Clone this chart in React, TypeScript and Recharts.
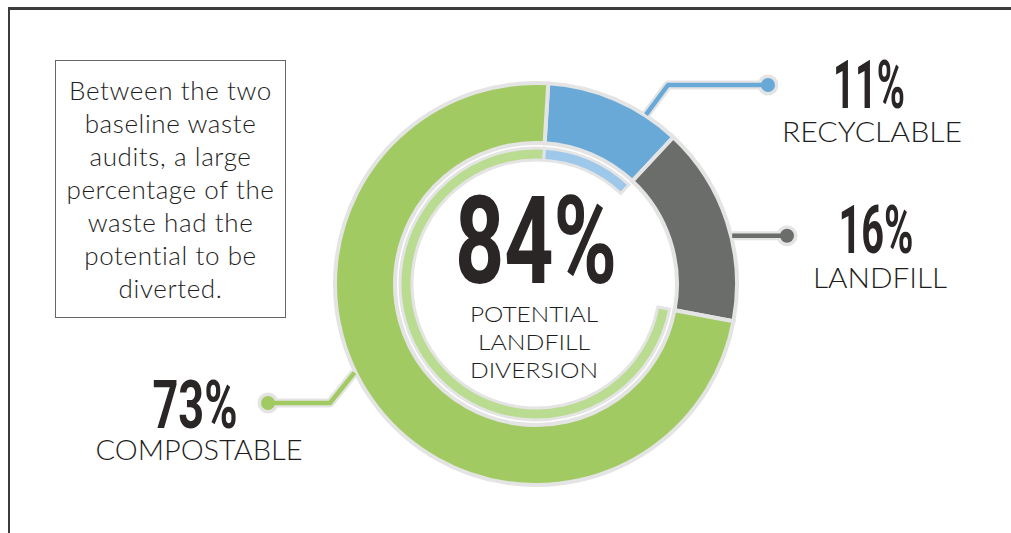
import React from 'react';
import { PieChart, Pie, Cell } from 'recharts';

// waste audit shares, clockwise from the top
const categories = ['RECYCLABLE', 'LANDFILL', 'COMPOSTABLE'];
const shares = [11, 16, 73];
const divertible = [true, false, true];
const centerLines = ['POTENTIAL', 'LANDFILL', 'DIVERSION'];
const noteLines = [
  'Between the two',
  'baseline waste',
  'audits, a large',
  'percentage of the',
  'waste had the',
  'potential to be',
  'diverted.',
];

const ringColors = ['#68a9d7', '#6a6d69', '#a2ca62'];
const innerColors = ['#9dc8ea', 'none', '#b9dc90'];
const outlineGray = '#e4e4e4';
const inkColor = '#2a2626';

const outerData = categories.map((name, i) => ({ name, value: shares[i] }));
const innerData = categories.map((name, i) => ({ name, value: shares[i] }));
const diversion = shares.reduce((sum, v, i) => (divertible[i] ? sum + v : sum), 0);

const START = 86.5;
const RAD = Math.PI / 180;

// callout geometry, relative to the pie centre
const callouts = [
  { shift: -9.7, elbow: [132, -199], end: [232, -199], pct: [333, -176, 72], word: [336, -142, 180] },
  { shift: -4.3, elbow: null, end: [251, null], pct: [340, -31, 75], word: [344, 4, 134] },
  { shift: -11.9, elbow: [-206, 119], end: [-268, 119], pct: [-341, 144, 85], word: [-337, 176, 207] },
];

const renderCallout = (props: any) => {
  const { cx, cy, midAngle, outerRadius, index } = props;
  const c = callouts[index];
  const color = ringColors[index];
  const a = (midAngle + c.shift) * RAD;
  const r = outerRadius + 1;
  const ax = cx + r * Math.cos(a);
  const ay = cy - r * Math.sin(a);
  const pts: number[][] = [[ax, ay]];
  if (c.elbow) pts.push([cx + c.elbow[0], cy + c.elbow[1]]);
  const ex = cx + c.end[0];
  const ey = c.end[1] === null ? ay : cy + (c.end[1] as number);
  pts.push([ex, ey]);
  const path = pts.map((p) => p.join(',')).join(' ');
  return (
    <g key={`callout-${index}`}>
      <polyline points={path} fill="none" stroke={outlineGray} strokeWidth={9} strokeLinejoin="round" />
      <circle cx={ex} cy={ey} r={10.5} fill={outlineGray} />
      <polyline points={path} fill="none" stroke={color} strokeWidth={4.5} strokeLinejoin="round" />
      <circle cx={ex} cy={ey} r={7} fill={color} />
      <text
        x={cx + c.pct[0]}
        y={cy + c.pct[1]}
        textAnchor="middle"
        fontFamily="Roboto, sans-serif"
        fontWeight={700}
        fontSize={66}
        textLength={c.pct[2]}
        lengthAdjust="spacingAndGlyphs"
        fill={inkColor}
      >
        {shares[index]}%
      </text>
      <text
        x={cx + c.word[0]}
        y={cy + c.word[1]}
        textAnchor="middle"
        fontFamily="Lato, sans-serif"
        fontWeight={300}
        fontSize={28}
        textLength={c.word[2]}
        lengthAdjust="spacingAndGlyphs"
        fill="#1e1e1e"
      >
        {categories[index]}
      </text>
    </g>
  );
};

// centre text is hung on the first inner slice's label
const renderCenter = (props: any) => {
  const { cx, cy, index } = props;
  if (index !== 0) return <g key={`c-${index}`} />;
  const widths = [128, 112, 128];
  return (
    <g key="center">
      <text
        x={cx}
        y={cy - 1}
        textAnchor="middle"
        fontFamily="Roboto, sans-serif"
        fontWeight={700}
        fontSize={123}
        textLength={162}
        lengthAdjust="spacingAndGlyphs"
        fill={inkColor}
      >
        {diversion}%
      </text>
      {centerLines.map((line, i) => (
        <text
          key={line}
          x={cx - 2}
          y={cy + 38 + i * 28}
          textAnchor="middle"
          fontFamily="Lato, sans-serif"
          fontWeight={300}
          fontSize={22}
          textLength={widths[i]}
          lengthAdjust="spacingAndGlyphs"
          fill="#1e1e1e"
        >
          {line}
        </text>
      ))}
    </g>
  );
};

export default function App() {
  return (
    <div style={{ position: 'absolute', left: 0, top: 0, width: 1011, height: 533, background: '#fff', overflow: 'hidden' }}>
      <div
        style={{
          position: 'absolute', left: 8, top: 7, width: 1010, height: 540,
          borderTop: '3px solid #3c3c3c', borderLeft: '2px solid #3c3c3c',
        }}
      />
      <div
        style={{
          position: 'absolute', left: 55, top: 60, width: 231, height: 258,
          border: '1px solid #666', boxSizing: 'border-box',
          fontFamily: 'Lato, sans-serif', fontWeight: 300, fontSize: 26, lineHeight: '33px',
          letterSpacing: 0.6, color: '#1e1e1e', textAlign: 'center', paddingTop: 13,
        }}
      >
        {noteLines.map((l) => (
          <div key={l} style={{ whiteSpace: 'nowrap' }}>{l}</div>
        ))}
      </div>
      <div style={{ position: 'absolute', left: 0, top: 0 }}>
        <PieChart width={1011} height={533} margin={{ top: 0, right: 0, bottom: 0, left: 0 }}>
          <Pie
            data={innerData}
            dataKey="value"
            nameKey="name"
            cx={536}
            cy={284}
            innerRadius={124}
            outerRadius={136}
            startAngle={START}
            endAngle={START - 360}
            stroke={outlineGray}
            strokeWidth={3}
            label={renderCenter}
            labelLine={false}
            isAnimationActive={false}
          >
            {innerData.map((d, i) => (
              <Cell key={d.name} fill={innerColors[i]} stroke={innerColors[i] === 'none' ? 'none' : outlineGray} />
            ))}
          </Pie>
          <Pie
            data={outerData}
            dataKey="value"
            nameKey="name"
            cx={536}
            cy={284}
            innerRadius={141}
            outerRadius={201}
            startAngle={START}
            endAngle={START - 360}
            stroke={outlineGray}
            strokeWidth={4}
            label={renderCallout}
            labelLine={false}
            isAnimationActive={false}
          >
            {outerData.map((d, i) => (
              <Cell key={d.name} fill={ringColors[i]} />
            ))}
          </Pie>
        </PieChart>
      </div>
    </div>
  );
}
